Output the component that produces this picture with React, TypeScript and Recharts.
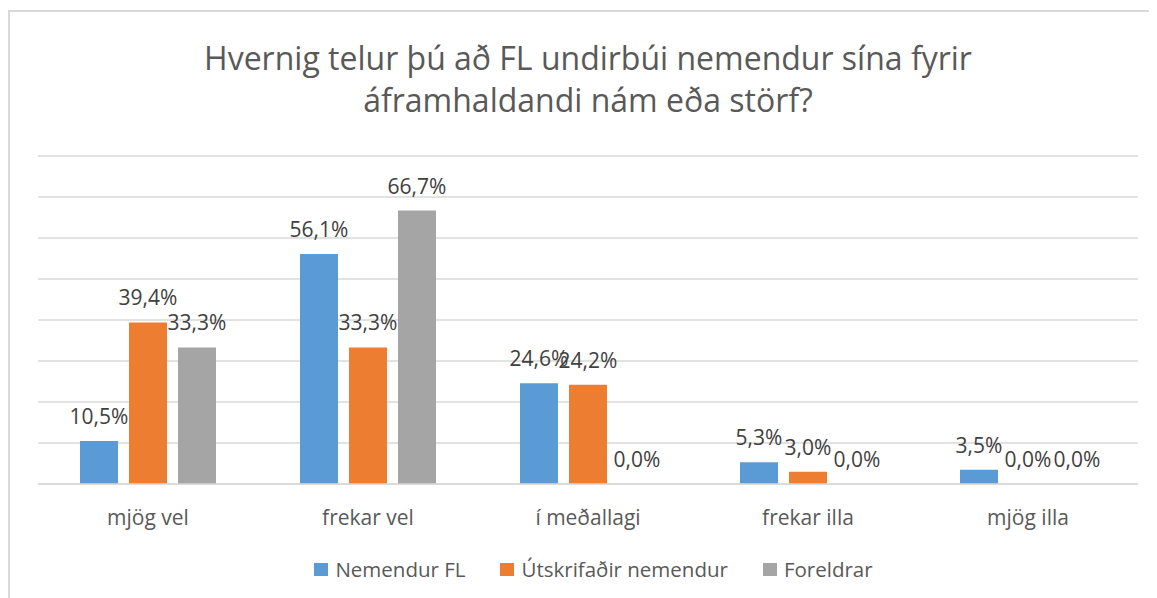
import React from "react";
import { BarChart, Bar, XAxis, YAxis, CartesianGrid, Legend, LabelList } from "recharts";

const categories = ["mjög vel", "frekar vel", "í meðallagi", "frekar illa", "mjög illa"];
const nemendurFL = [10.5, 56.1, 24.6, 5.3, 3.5];
const utskrifadir = [39.4, 33.3, 24.2, 3.0, 0.0];
const foreldrar = [33.3, 66.7, 0.0, 0.0, 0.0];
const yTicks = [0, 10, 20, 30, 40, 50, 60, 70, 80];

const seriesInfo = [
  { key: "nemendurFL", name: "Nemendur FL", color: "#5B9BD5" },
  { key: "utskrifadir", name: "Útskrifaðir nemendur", color: "#ED7D31" },
  { key: "foreldrar", name: "Foreldrar", color: "#A5A5A5" },
];

const data = categories.map((c, i) => ({
  category: c,
  nemendurFL: nemendurFL[i],
  utskrifadir: utskrifadir[i],
  foreldrar: foreldrar[i],
}));

const FONT = "'Open Sans', sans-serif";
const fmt = (v: any) => Number(v).toFixed(1).replace(".", ",") + "%";
// zero bars get a hairline height so their labels still render
const minSize = (v: any) => (Number(v) === 0 ? 0.01 : 0);

function LegendContent() {
  return (
    <div
      style={{
        height: 28,
        display: "flex",
        justifyContent: "center",
        alignItems: "center",
        fontFamily: FONT,
        fontSize: 20.5,
        color: "#595959",
        paddingLeft: 30,
        paddingRight: 19,
      }}
    >
      {seriesInfo.map((s, i) => (
        <div key={s.key} style={{ display: "flex", alignItems: "center", marginLeft: i ? 35 : 0 }}>
          <span style={{ width: 14, height: 13, background: s.color, marginRight: 7, display: "inline-block" }} />
          <span>{s.name}</span>
        </div>
      ))}
    </div>
  );
}

export default function App() {
  return (
    <div style={{ position: "relative", width: 1149, height: 590, marginTop: 2, background: "#fff" }}>
      <div
        style={{
          position: "absolute",
          left: 0,
          top: 0,
          width: "100%",
          height: "100%",
          boxSizing: "border-box",
          borderTop: "2px solid #d9d9d9",
          borderLeft: "2px solid #d9d9d9",
          pointerEvents: "none",
        }}
      />
      <div
        style={{
          position: "absolute",
          left: 30,
          width: 1100,
          top: 27,
          textAlign: "center",
          fontFamily: FONT,
          fontSize: 32,
          lineHeight: "42px",
          color: "#595959",
        }}
      >
        Hvernig telur þú að FL undirbúi nemendur sína fyrir
        <br />
        áframhaldandi nám eða störf?
      </div>
      <div style={{ position: "absolute", left: 0, top: 0 }}>
        <BarChart
          width={1149}
          height={590}
          data={data}
          margin={{ top: 146, right: 19, left: 30, bottom: 17 }}
          barSize={38}
          barGap={11}
        >
          <CartesianGrid vertical={false} stroke="#d9d9d9" strokeWidth={1.5} />
          <YAxis hide domain={[0, 80]} ticks={yTicks} />
          <XAxis
            dataKey="category"
            height={71}
            tickLine={false}
            tickSize={0}
            tickMargin={26}
            axisLine={{ stroke: "#d9d9d9", strokeWidth: 1.5 }}
            tick={{ fontFamily: FONT, fontSize: 21, fill: "#595959" }}
          />
          <Legend verticalAlign="bottom" content={<LegendContent />} />
          {seriesInfo.map((s) => (
            <Bar
              key={s.key}
              dataKey={s.key}
              name={s.name}
              fill={s.color}
              minPointSize={minSize}
              isAnimationActive={false}
            >
              <LabelList
                dataKey={s.key}
                position="top"
                offset={17}
                formatter={fmt}
                style={{ fontFamily: FONT, fontSize: 21, fill: "#404040" }}
              />
            </Bar>
          ))}
        </BarChart>
      </div>
    </div>
  );
}
